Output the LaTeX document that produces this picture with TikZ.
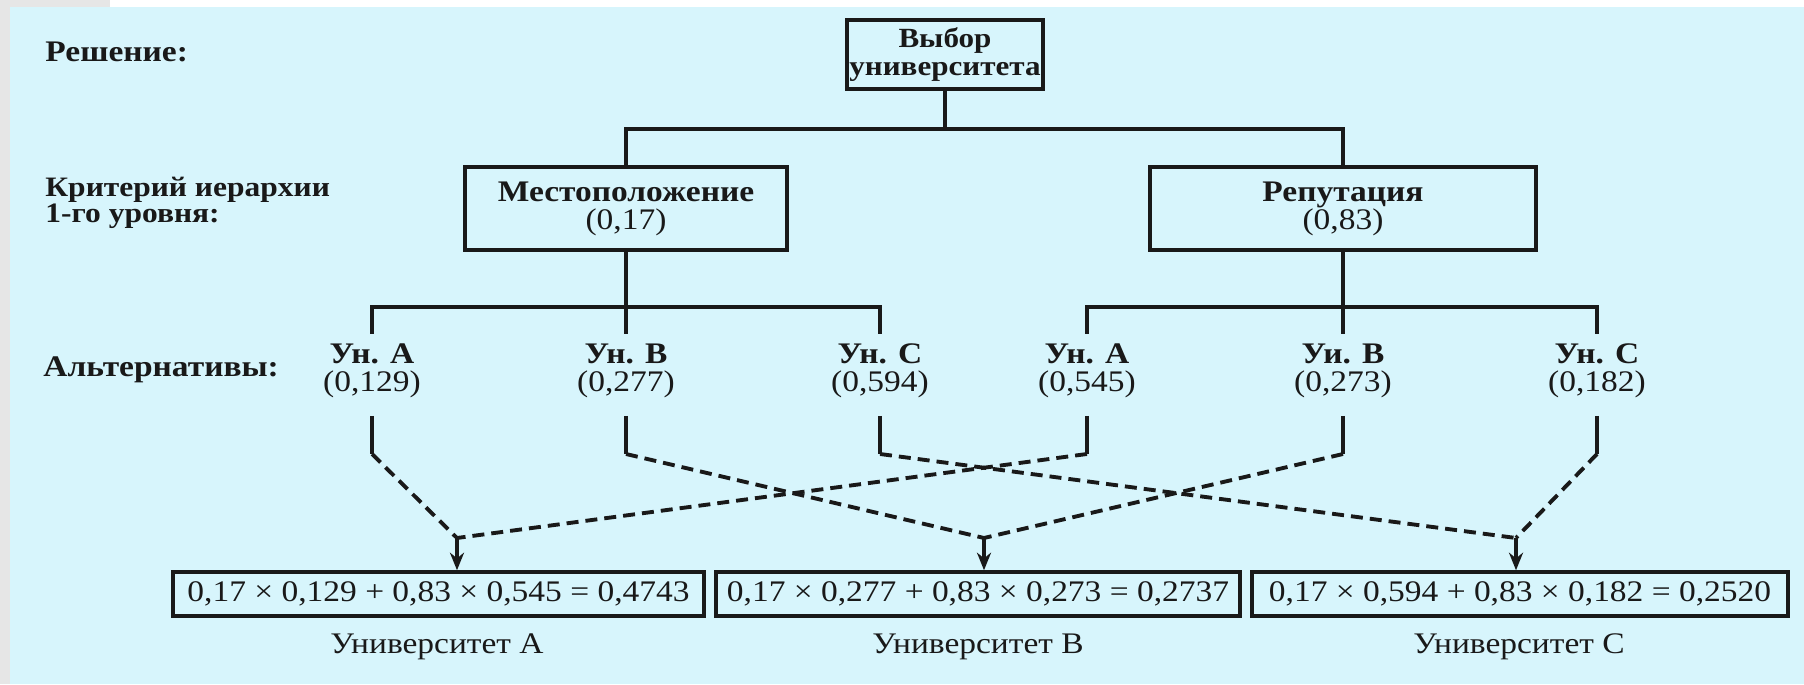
\documentclass[tikz,border=0pt]{standalone}
\usepackage{fontspec}
\setmainfont{Liberation Serif}[FakeStretch=1.12]
\usetikzlibrary{arrows.meta}
\definecolor{bgcyan}{RGB}{215,245,252}
\definecolor{edgegray}{RGB}{230,230,230}
\definecolor{ink}{RGB}{25,25,25}

\begin{document}
\begin{tikzpicture}[
	every node/.style={text=ink, font=\fontsize{8.5}{8}\selectfont},
	crit/.style={draw=ink, line width=1pt, align=center, minimum width=#1, minimum height=0.83cm, inner sep=0pt},
	alt/.style={align=center, anchor=north, inner xsep=0pt, inner ysep=0.09cm},
	res/.style={draw=ink, line width=1pt, minimum width=#1, minimum height=0.44cm, inner sep=0pt},
	tree/.style={draw=ink, line width=1pt},
	link/.style={draw=ink, line width=1.1pt, dash pattern=on 0.12cm off 0.07cm},
	tip/.style={draw=ink, line width=1pt, -{Stealth[length=5pt,width=4pt]}}]
	% background
	\fill[bgcyan] (0, 0) rectangle (18.04, 6.84);
	\fill[edgegray] (0, 0) rectangle (0.10, 6.84);
	\fill[edgegray] (0, 6.77) rectangle (1.10, 6.84);
	\fill[white] (1.10, 6.77) rectangle (18.04, 6.84);
	% level labels
	\node[anchor=west, font=\fontsize{8.5}{8}\bfseries] (lvl0) at (0.33, 6.32) {Решение:};
	\node[anchor=west, align=left, font=\fontsize{8}{7.4}\bfseries] (lvl1) at (0.33, 4.81) {Критерий иерархии\\1-го уровня:};
	\node[anchor=west, font=\fontsize{8.5}{8}\bfseries] (lvl2) at (0.31, 3.14) {Альтернативы:};
	% goal and criteria
	\node[crit=1.96cm, minimum height=0.69cm, font=\fontsize{7.9}{7.9}\bfseries] (choice) at (9.45, 6.295) {Выбор\\университета};
	\node[crit=3.22cm] (loc) at (6.26, 4.755) {\textbf{Местоположение}\\(0,17)};
	\node[crit=3.86cm] (rep) at (13.43, 4.755) {\textbf{Репутация}\\(0,83)};
	\draw[tree] (choice.south) -- (9.45, 5.55) coordinate (bus1);
	\draw[tree] (loc.north) |- (bus1) -| (rep.north);
	% alternatives
	\node[alt] (a1) at (3.72, 3.50) {\textbf{Ун. А}\\(0,129)};
	\node[alt] (b1) at (6.26, 3.50) {\textbf{Ун. В}\\(0,277)};
	\node[alt] (c1) at (8.80, 3.50) {\textbf{Ун. С}\\(0,594)};
	\node[alt] (a2) at (10.87, 3.50) {\textbf{Ун. А}\\(0,545)};
	\node[alt] (b2) at (13.43, 3.50) {\textbf{Уи. В}\\(0,273)};
	\node[alt] (c2) at (15.97, 3.50) {\textbf{Ун. С}\\(0,182)};
	\draw[tree] (loc.south) -- (b1.north);
	\draw[tree] (a1.north) |- (6.26, 3.77) -| (c1.north);
	\draw[tree] (rep.south) -- (b2.north);
	\draw[tree] (a2.north) |- (13.43, 3.77) -| (c2.north);
	% feet under the alternatives
	\coordinate (foottop) at (0, 2.68);
	\coordinate (footend) at (0, 2.30);
	\foreach \n in {a1,b1,c1,a2,b2,c2}
		\draw[tree] (\n |- foottop) -- (\n |- footend) coordinate (\n-foot);
	% results
	\node[res=5.31cm] (resA) at (4.385, 0.90) {0,17 × 0,129 + 0,83 × 0,545 = 0,4743};
	\node[res=5.24cm] (resB) at (9.78, 0.90) {0,17 × 0,277 + 0,83 × 0,273 = 0,2737};
	\node[res=5.36cm] (resC) at (15.20, 0.90) {0,17 × 0,594 + 0,83 × 0,182 = 0,2520};
	\node (uniA) at (4.37, 0.37) {Университет А};
	\node (uniB) at (9.78, 0.37) {Университет В};
	\node (uniC) at (15.19, 0.37) {Университет С};
	% weighted links
	\coordinate (kA) at (4.57, 1.46);
	\coordinate (kB) at (9.84, 1.46);
	\coordinate (kC) at (15.16, 1.46);
	\draw[link] (a1-foot) -- (kA);
	\draw[link] (a2-foot) -- (kA);
	\draw[link] (b1-foot) -- (kB);
	\draw[link] (b2-foot) -- (kB);
	\draw[link] (c1-foot) -- (kC);
	\draw[link] (c2-foot) -- (kC);
	\draw[tip] (kA) -- (kA |- resA.north);
	\draw[tip] (kB) -- (kB |- resB.north);
	\draw[tip] (kC) -- (kC |- resC.north);
\end{tikzpicture}
\end{document}
